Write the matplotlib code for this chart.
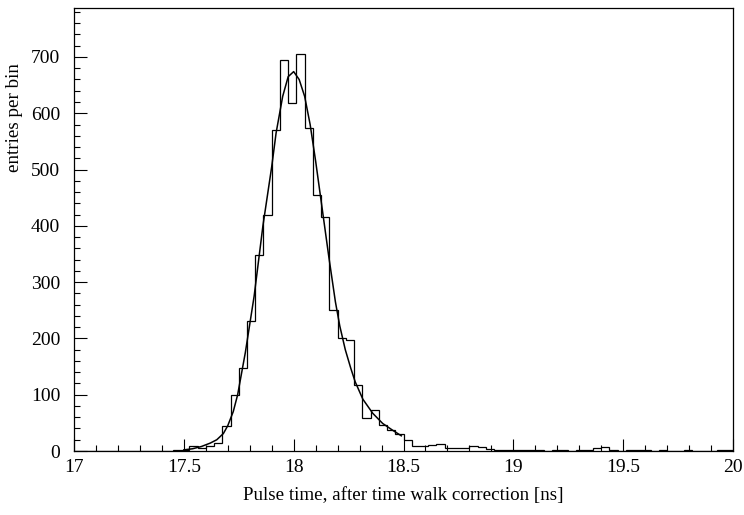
import numpy as np
import matplotlib.pyplot as plt
from matplotlib.ticker import MultipleLocator

plt.rcParams['font.family'] = ['Liberation Serif', 'DejaVu Serif']

# histogram: 80 bins of 0.0375 ns from 17 to 20
bin_edges = np.linspace(17, 20, 81)
counts = [0, 0, 0, 0, 0, 0, 0, 0, 0, 0,
          0, 0, 1, 2, 8, 6, 9, 15, 44, 99,
          147, 231, 348, 420, 570, 695, 618, 705, 574, 455,
          416, 250, 200, 197, 117, 58, 73, 46, 37, 31,
          20, 9, 9, 10, 12, 5, 5, 6, 8, 7,
          3, 2, 2, 1, 2, 1, 1, 0, 1, 1,
          0, 1, 2, 5, 7, 1, 0, 1, 2, 1,
          0, 1, 0, 0, 1, 0, 0, 0, 1, 1]

# fit curve, points
fit_t = [17.50, 17.54, 17.58, 17.62, 17.65, 17.68, 17.70, 17.725, 17.745, 17.78,
         17.82, 17.86, 17.90, 17.92, 17.95, 17.975, 18.00, 18.025, 18.05, 18.075,
         18.10, 18.13, 18.16, 18.19, 18.21, 18.235, 18.26, 18.28, 18.315, 18.36,
         18.405, 18.45, 18.49]
fit_n = [2, 4, 8, 14, 20, 31, 45, 70, 100, 175,
         275, 400, 505, 565, 630, 665, 674, 660, 630, 580,
         515, 430, 345, 265, 222, 180, 147, 123, 92, 67,
         49, 37, 27]

fig = plt.figure(figsize=(7.44, 5.15), dpi=100)
ax = fig.add_axes([74/744, 1-451/515, 659/744, 443/515])

ax.stairs(counts, bin_edges, color='black', linewidth=0.9)
ax.plot(fit_t, fit_n, color='black', linewidth=1.1)

ax.set_xlim(17, 20)
ax.set_ylim(0, 787)
ax.xaxis.set_major_locator(MultipleLocator(0.5))
ax.xaxis.set_minor_locator(MultipleLocator(0.1))
ax.yaxis.set_major_locator(MultipleLocator(100))
ax.yaxis.set_minor_locator(MultipleLocator(20))
ax.set_xticks([17, 17.5, 18, 18.5, 19, 19.5, 20])
ax.set_xticklabels(['17', '17.5', '18', '18.5', '19', '19.5', '20'])

ax.tick_params(which='both', direction='in', top=False, right=False,
               labelsize=14, width=0.8)
ax.tick_params(which='major', length=9)
ax.tick_params(which='minor', length=4.5)
ax.tick_params(axis='x', pad=6)
ax.tick_params(axis='y', pad=10)
for s in ax.spines.values():
    s.set_linewidth(0.9)

ax.set_xlabel('Pulse time, after time walk correction [ns]', fontsize=13.7)
ax.xaxis.set_label_coords(0.5, -0.082)
ax.set_ylabel('entries per bin', fontsize=13.7, loc='top')
ax.yaxis.set_label_coords(-0.077, 0.876)

fig.savefig('out.png', dpi=100)
